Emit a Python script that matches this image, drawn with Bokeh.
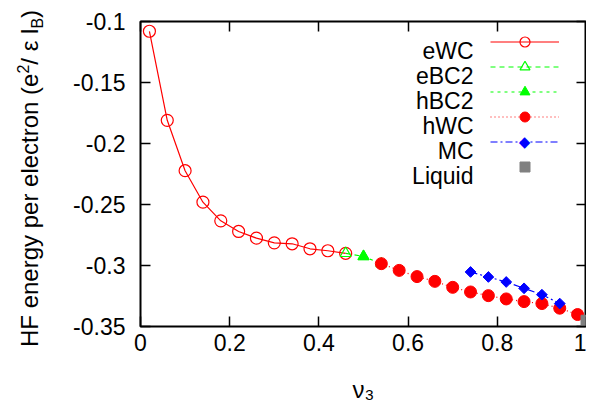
from math import pi
from bokeh.plotting import figure
from bokeh.layouts import row
from bokeh.models import (Range1d, FixedTicker, LinearAxis, Label, Legend, LegendItem, Div)
from bokeh.embed import file_html
from bokeh.resources import INLINE

# ---- data ----
ewc_x = [0.02, 0.06, 0.10, 0.14, 0.18, 0.22, 0.26, 0.30, 0.34, 0.38, 0.42, 0.46]
ewc_y = [-0.108, -0.181, -0.2223, -0.2481, -0.2634, -0.2721, -0.2776, -0.2814, -0.2822, -0.2863, -0.2879, -0.290]
ebc2_x = [0.46, 0.50]
ebc2_y = [-0.290, -0.2926]
hbc2_x = [0.50, 0.54]
hbc2_y = [-0.2926, -0.2985]
hwc_x = [0.54, 0.58, 0.62, 0.66, 0.70, 0.74, 0.78, 0.82, 0.86, 0.90, 0.94, 0.98]
hwc_y = [-0.2985, -0.304, -0.3091, -0.313, -0.3179, -0.3217, -0.3247, -0.3274, -0.3296, -0.3312, -0.335, -0.3402]
mc_x = [0.74, 0.78, 0.82, 0.86, 0.90, 0.94]
mc_y = [-0.3053, -0.3094, -0.3135, -0.3187, -0.3239, -0.3312]
liq_x = [1.0]
liq_y = [-0.3453]

series_names = ["eWC", "eBC2", "hBC2", "hWC", "MC", "Liquid"]

x_ticks = [0, 0.2, 0.4, 0.6, 0.8, 1]
x_tick_labels = ["0", "0.2", "0.4", "0.6", "0.8", "1"]
y_ticks = [-0.35, -0.3, -0.25, -0.2, -0.15, -0.1]
y_tick_labels = ["-0.35", "-0.3", "-0.25", "-0.2", "-0.15", "-0.1"]

x_title = "ν₃"

FONT = "Liberation Sans"
FS = "23px"
RED = "#ff0000"
GREEN = "#00ff00"
BLUE = "#0000ff"
GRAY = "#808080"

DIV_W = 48
W, H = 586 - DIV_W, 405
FL, FB = 140, 327  # frame left / bottom in page pixels

p = figure(width=W, height=H, output_backend="svg", toolbar_location=None,
           x_range=Range1d(0, 1), y_range=Range1d(-0.35, -0.1),
           min_border_left=FL - DIV_W, min_border_right=0, min_border_top=21,
           min_border_bottom=H - FB,
           x_axis_location=None, y_axis_location=None)
p.grid.visible = False
p.outline_line_color = "black"
p.outline_line_width = 2
p.background_fill_color = "white"
p.border_fill_color = "white"


def style_axis(ax, ticks, labels, show):
    ax.ticker = FixedTicker(ticks=ticks)
    ax.minor_tick_line_color = None
    ax.axis_line_color = None
    ax.major_tick_in = 10
    ax.major_tick_out = 0
    ax.major_tick_line_color = "black"
    ax.major_tick_line_width = 1.5
    if show:
        ax.major_label_overrides = {t: l for t, l in zip(ticks, labels)}
        ax.major_label_text_font = FONT
        ax.major_label_text_font_size = FS
        ax.major_label_text_color = "black"
    else:
        ax.major_label_overrides = {t: "" for t in ticks}
        ax.major_label_text_font_size = "1px"
        ax.major_label_standoff = 0


xb = LinearAxis()
style_axis(xb, x_ticks, x_tick_labels, True)
xb.major_label_standoff = 7
xb.axis_label = x_title
xb.axis_label_text_font = FONT
xb.axis_label_text_font_size = "24px"
xb.axis_label_text_font_style = "normal"
xb.axis_label_text_color = "black"
xb.axis_label_standoff = 22
p.add_layout(xb, "below")
xt = LinearAxis()
style_axis(xt, x_ticks, x_tick_labels, False)
p.add_layout(xt, "above")
yl = LinearAxis()
style_axis(yl, y_ticks, y_tick_labels, True)
yl.major_label_standoff = 15
p.add_layout(yl, "left")
yr = LinearAxis()
style_axis(yr, y_ticks, y_tick_labels, False)
p.add_layout(yr, "right")

# ---- series ----
r_ewc_l = p.line(ewc_x, ewc_y, line_color=RED, line_width=1.2)
r_ewc_s = p.scatter(ewc_x, ewc_y, marker="circle", size=12, line_color=RED, fill_color=None, line_width=1.2)
r_ebc_l = p.line(ebc2_x, ebc2_y, line_color=GREEN, line_width=1.2, line_dash="5 4")
r_ebc_s = p.scatter(ebc2_x, ebc2_y, marker="triangle", size=11, line_color=GREEN, fill_color=None, line_width=1.2)
r_hbc_l = p.line(hbc2_x, hbc2_y, line_color=GREEN, line_width=1.2, line_dash="3 4")
r_hbc_s = p.scatter(hbc2_x, hbc2_y, marker="triangle", size=11, line_color=GREEN, fill_color=GREEN)
r_hwc_l = p.line(hwc_x, hwc_y, line_color=RED, line_width=1.2, line_dash="1 3")
r_hwc_s = p.scatter(hwc_x, hwc_y, marker="circle", size=12, line_color=RED, fill_color=RED)
r_mc_l = p.line(mc_x, mc_y, line_color=BLUE, line_width=1.2, line_dash="7 3 2 3")
r_mc_s = p.scatter(mc_x, mc_y, marker="square", angle=pi / 4, size=7.6, line_color=BLUE, fill_color=BLUE)
r_liq_s = p.scatter(liq_x, liq_y, marker="square", size=11, line_color=GRAY, fill_color=GRAY)


# ---- legend (samples via Bokeh legend, texts right-aligned to their left) ----
def sx(px):
    return px - FL


def sy(py):
    return FB - py


ROW = 25
TOP = 30
groups = [[r_ewc_l, r_ewc_s], [r_ebc_l, r_ebc_s], [r_hbc_l, r_hbc_s],
          [r_hwc_l, r_hwc_s], [r_mc_l], [r_liq_s]]
items = [LegendItem(label="", renderers=g) for g in groups]
leg = Legend(items=items, location=(sx(490), sy(TOP + ROW * len(groups))), padding=0, margin=0,
             border_line_color=None, background_fill_alpha=0,
             glyph_width=69, glyph_height=ROW, label_height=ROW, spacing=0,
             label_standoff=0, label_width=1, label_text_font_size="1px")
p.add_layout(leg, "center")

for i, name in enumerate(series_names):
    p.add_layout(Label(x=sx(473), y=sy(TOP + ROW * (i + 0.5) + 9), x_units="screen", y_units="screen",
                       text=name, text_align="right", text_baseline="alphabetic",
                       text_font=FONT, text_font_size=FS, text_color="black"))

# MC legend sample marker (legend samples cannot be rotated, so a diamond glyph is placed on it)
p.add_layout(Label(x=sx(524), y=sy(TOP + ROW * 4.5), x_units="screen", y_units="screen",
                   text="◆", text_align="center", text_baseline="middle",
                   text_font="DejaVu Sans", text_font_size="15px", text_color=BLUE))

# ---- y title (rotated HTML text with super/subscript) ----
ylabel_html = (
    '<div style="position:relative;width:%dpx;height:%dpx;">'
    '<div style="position:absolute;left:18px;top:347px;transform:rotate(-90deg);transform-origin:0 0;'
    'white-space:nowrap;font-family:\'Liberation Sans\';font-size:24px;line-height:24px;color:black;">'
    'HF energy per electron (e<span style="font-size:16px;position:relative;top:-9px;">2</span>'
    '/&nbsp;ε&nbsp;l<span style="font-size:16px;position:relative;top:5px;">B</span>)'
    '</div></div>' % (DIV_W, H)
)
ydiv = Div(text=ylabel_html, width=DIV_W, height=H, margin=0, styles={"overflow": "visible"})

layout = row(ydiv, p, spacing=0)
open("out.html", "w").write(file_html(layout, INLINE))
